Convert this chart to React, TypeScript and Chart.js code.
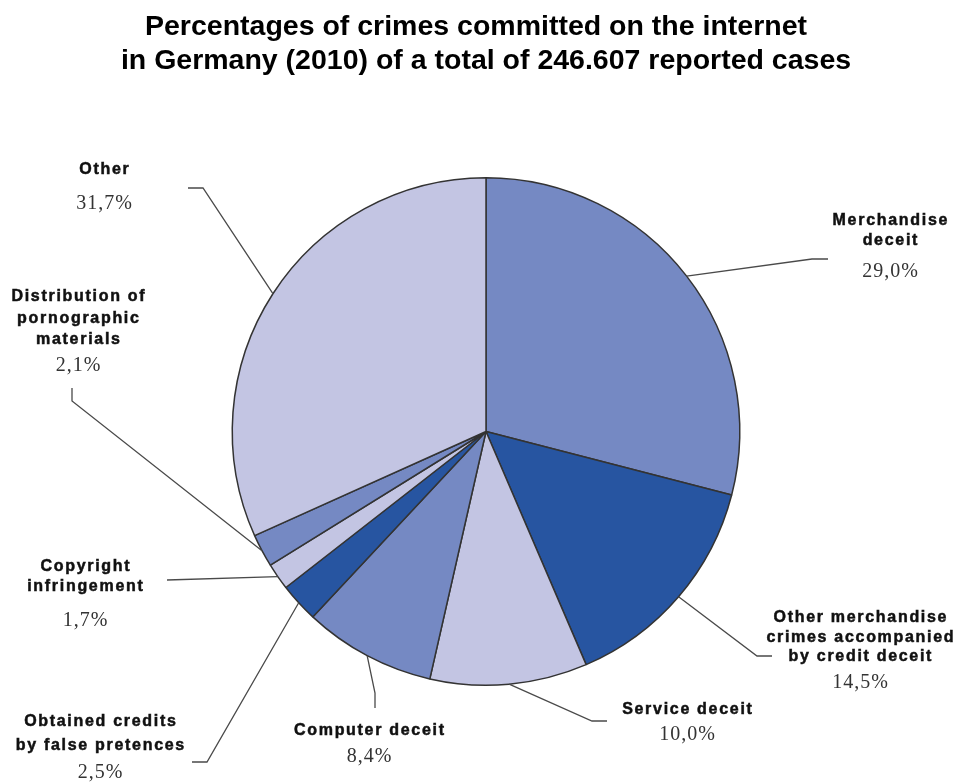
import React, { useEffect, useRef } from "react";
import { Chart, registerables } from "chart.js";

Chart.register(...registerables);

const titleLines = [
  "Percentages of crimes committed on the internet",
  "in Germany (2010) of a total of 246.607 reported cases",
];

const categories = [
  "Merchandise deceit",
  "Other merchandise crimes accompanied by credit deceit",
  "Service deceit",
  "Computer deceit",
  "Obtained credits by false pretences",
  "Copyright infringement",
  "Distribution of pornographic materials",
  "Other",
];

const labelLines = [
  ["Merchandise", "deceit"],
  ["Other merchandise", "crimes accompanied", "by credit deceit"],
  ["Service deceit"],
  ["Computer deceit"],
  ["Obtained credits", "by false pretences"],
  ["Copyright", "infringement"],
  ["Distribution of", "pornographic", "materials"],
  ["Other"],
];

const percentages = [29.0, 14.5, 10.0, 8.4, 2.5, 1.7, 2.1, 31.7];

const LIGHT = "#c3c5e3";
const MID = "#7589c3";
const DARK = "#2755a1";
const sliceColors = [MID, DARK, LIGHT, MID, DARK, LIGHT, MID, LIGHT];

// label layout (text centres and leader-line bends, in canvas pixels)
const labelLayout = [
  { x: 890, y: 221, lh: 20, py: 272, path: [[812, 259], [828, 259]] },
  { x: 860, y: 618, lh: 19.5, py: 683, path: [[757, 656], [772, 656]] },
  { x: 687, y: 710, lh: 22, py: 735, path: [[592, 721], [607, 721]] },
  { x: 369, y: 731, lh: 22, py: 757, path: [[375, 693], [375, 708]] },
  { x: 100, y: 722, lh: 24, py: 773, path: [[207, 762], [192, 762]] },
  { x: 85, y: 567, lh: 20, py: 621, path: [[167, 580]] },
  { x: 78, y: 297, lh: 21.5, py: 366, path: [[72, 401], [72, 388]] },
  { x: 104, y: 170, lh: 22, py: 204, path: [[203, 188], [188, 188]] },
];

const fmtPct = (v: number) => v.toFixed(1).replace(".", ",") + "%";

const labelPlugin = {
  id: "pieLabels",
  afterDraw(chart: any) {
    const ctx = chart.ctx as any;
    ctx.save();
    // title
    ctx.fillStyle = "#000";
    ctx.font = "bold 28.5px 'Liberation Sans', Arial, sans-serif";
    ctx.textAlign = "center";
    ctx.textBaseline = "alphabetic";
    ctx.letterSpacing = "0px";
    ctx.fillText(titleLines[0], 476, 35);
    ctx.fillText(titleLines[1], 486, 69);

    const meta = chart.getDatasetMeta(0);
    meta.data.forEach((arc: any, i: number) => {
      const lay = labelLayout[i];
      const a = (arc.startAngle + arc.endAngle) / 2;
      const sx = arc.x + Math.cos(a) * arc.outerRadius;
      const sy = arc.y + Math.sin(a) * arc.outerRadius;
      ctx.strokeStyle = "#4a4a4a";
      ctx.lineWidth = 1.3;
      ctx.beginPath();
      ctx.moveTo(sx, sy);
      lay.path.forEach((p) => ctx.lineTo(p[0], p[1]));
      ctx.stroke();

      ctx.textAlign = "center";
      ctx.textBaseline = "middle";
      ctx.fillStyle = "#111";
      ctx.strokeStyle = "#111";
      ctx.lineWidth = 0.5;
      ctx.font = "bold 16px 'Liberation Sans', Arial, sans-serif";
      ctx.letterSpacing = "1.7px";
      labelLines[i].forEach((t, k) => {
        ctx.fillText(t, lay.x + 0.85, lay.y + k * lay.lh);
        ctx.strokeText(t, lay.x + 0.85, lay.y + k * lay.lh);
      });
      ctx.fillStyle = "#333";
      ctx.font = "20px 'Liberation Serif', 'Times New Roman', serif";
      ctx.letterSpacing = "1px";
      ctx.fillText(fmtPct(percentages[i]), lay.x + 0.5, lay.py);
    });
    ctx.restore();
  },
};

export default function App() {
  const ref = useRef<HTMLCanvasElement | null>(null);
  useEffect(() => {
    if (!ref.current) return;
    const chart = new Chart(ref.current, {
      type: "pie",
      data: {
        labels: categories,
        datasets: [
          {
            data: percentages,
            backgroundColor: sliceColors,
            borderColor: "#333",
            borderWidth: 1.5,
          },
        ],
      },
      options: {
        responsive: false,
        animation: false,
        layout: { padding: { left: 231, right: 224, top: 177, bottom: 97 } },
        plugins: {
          legend: { display: false },
          tooltip: { enabled: false },
          title: { display: false },
        },
      },
      plugins: [labelPlugin],
    });
    return () => chart.destroy();
  }, []);
  return (
    <div style={{ position: "absolute", left: 0, top: 0, width: 965, height: 783, background: "#fff" }}>
      <canvas ref={ref} width={965} height={783} />
    </div>
  );
}
